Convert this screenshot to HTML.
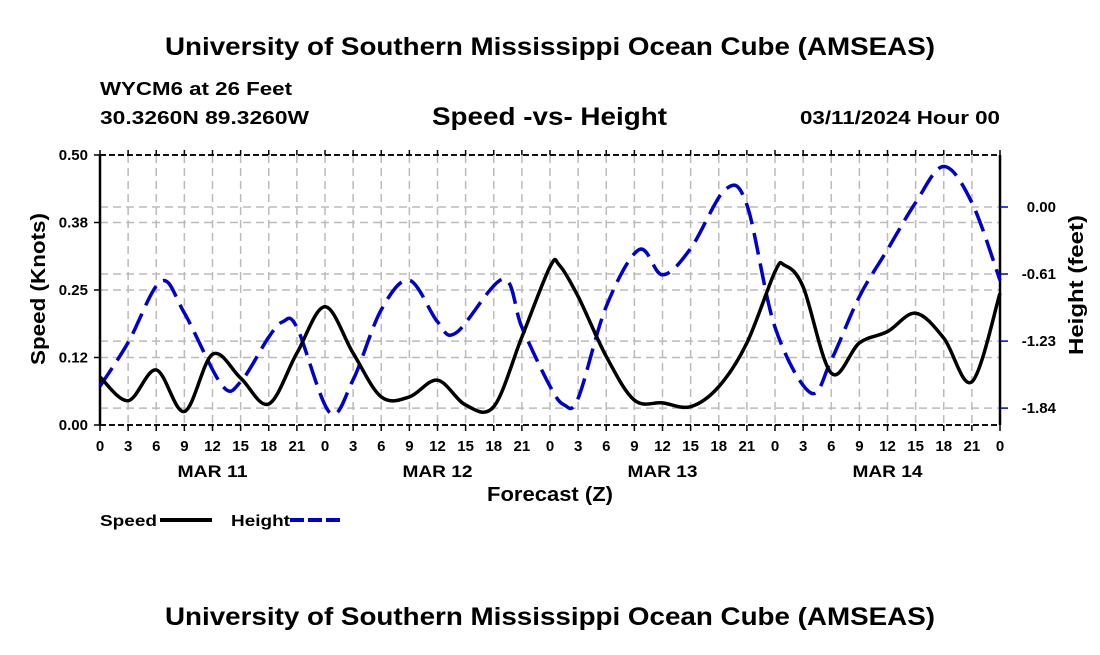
<!DOCTYPE html>
<html><head><meta charset="utf-8"><style>
body{margin:0;background:#fff;width:1100px;height:650px;overflow:hidden}
svg text{font-family:"Liberation Sans",sans-serif;font-weight:bold;fill:#000}
</style></head><body>
<svg id="c" width="1100" height="650">
<text x="165" y="55" font-size="25" textLength="770" lengthAdjust="spacingAndGlyphs">University of Southern Mississippi Ocean Cube (AMSEAS)</text>
<text x="100" y="95" font-size="18" textLength="192" lengthAdjust="spacingAndGlyphs">WYCM6 at 26 Feet</text>
<text x="100" y="124" font-size="18" textLength="209" lengthAdjust="spacingAndGlyphs">30.3260N  89.3260W</text>
<text x="432" y="125" font-size="25" textLength="235" lengthAdjust="spacingAndGlyphs">Speed -vs- Height</text>
<text x="800" y="124" font-size="18" textLength="200" lengthAdjust="spacingAndGlyphs">03/11/2024 Hour 00</text>
<g id="grid"></g>
<g id="axes"></g>
<g id="series"></g>
<text transform="translate(45,365) rotate(-90)" font-size="20" textLength="152" lengthAdjust="spacingAndGlyphs">Speed (Knots)</text>
<text transform="translate(1083,355) rotate(-90)" font-size="20" textLength="140" lengthAdjust="spacingAndGlyphs">Height (feet)</text>
<text x="487" y="501" font-size="20" textLength="126" lengthAdjust="spacingAndGlyphs">Forecast (Z)</text>
<g>
<text x="100" y="526" font-size="16" textLength="57" lengthAdjust="spacingAndGlyphs">Speed</text>
<line x1="160" y1="520" x2="212" y2="520" stroke="#000" stroke-width="4"/>
<text x="231" y="526" font-size="16" textLength="59" lengthAdjust="spacingAndGlyphs">Height</text>
<line x1="290" y1="520" x2="342" y2="520" stroke="#0000cc" stroke-width="4" stroke-dasharray="14,4"/>
</g>
<text x="165" y="625" font-size="25" textLength="770" lengthAdjust="spacingAndGlyphs">University of Southern Mississippi Ocean Cube (AMSEAS)</text>
</svg>
<script>
const speedHours=[0,3,6,9,12,15,18,21,24,27,30,33,36,39,42,45,48,49,51,54,57,60,63,66,69,72,73,75,78,81,84,87,90,93,96];
const speedValues=[0.089,0.045,0.102,0.025,0.131,0.087,0.039,0.133,0.219,0.133,0.052,0.052,0.083,0.037,0.034,0.163,0.293,0.296,0.238,0.127,0.046,0.041,0.034,0.071,0.152,0.284,0.296,0.256,0.096,0.152,0.173,0.207,0.161,0.080,0.244];
const heightHours=[0,3,6.5,9,13,15,18,19.5,21,24.5,27,30,33,36,38,43,45,48,49.5,51,54,57.5,60,63,66.7,69,72,75.8,78,81,84,87,90,93,96];
const heightValues=[-1.64,-1.24,-0.68,-0.97,-1.63,-1.60,-1.19,-1.05,-1.10,-1.88,-1.58,-0.94,-0.67,-1.05,-1.15,-0.66,-1.10,-1.64,-1.81,-1.75,-0.91,-0.39,-0.62,-0.38,0.16,0.02,-1.10,-1.70,-1.40,-0.82,-0.39,0.04,0.37,0.04,-0.67];
const speedTicks=[0,0.125,0.25,0.375,0.5];
const speedTickLabels=["0.00","0.12","0.25","0.38","0.50"];
const heightTicks=[0,-0.613,-1.227,-1.84];
const heightTickLabels=["0.00","-0.61","-1.23","-1.84"];
const dayLabels=["MAR 11","MAR 12","MAR 13","MAR 14"];
const X0=100,X1=1000,Y0=425,Y1=155;
const xs=h=>X0+(X1-X0)*h/96;
const ys=v=>Y0-(Y0-Y1)*v/0.5;
const yh=v=>207-v*109.3;
const NS="http://www.w3.org/2000/svg";
function mk(p,t,a){const e=document.createElementNS(NS,t);for(const k in a)e.setAttribute(k,a[k]);document.getElementById(p).appendChild(e);return e;}
for(let h=3;h<96;h+=3){const l=mk('grid','line',{x1:xs(h),x2:xs(h),y1:Y1,y2:Y0,stroke:'#bbb','stroke-width':1.5,'stroke-dasharray':'8,5'});

}
speedTicks.slice(1,4).forEach(v=>{const l=mk('grid','line',{x1:X0,x2:X1,y1:ys(v),y2:ys(v),stroke:'#bbb','stroke-width':1.5,'stroke-dasharray':'8,5'});

});
heightTicks.forEach(v=>{const l=mk('grid','line',{x1:X0,x2:X1,y1:yh(v),y2:yh(v),stroke:'#bbb','stroke-width':1.5,'stroke-dasharray':'8,5'});

});
[[X0,Y0,X0,Y1],[X1,Y0,X1,Y1]].forEach(c=>{const l=mk('axes','line',{x1:c[0],y1:c[1],x2:c[2],y2:c[3],stroke:'#000','stroke-width':2.5});

});
[Y0,Y1].forEach(y=>{const l=mk('axes','line',{x1:X0,x2:X1,y1:y,y2:y,stroke:'#111','stroke-width':2,'stroke-dasharray':'6,3'});

});
for(let h=0;h<=96;h+=3){const x=xs(h);
mk('axes','line',{x1:x,x2:x,y1:Y0,y2:Y0+6,stroke:'#000','stroke-width':1.5});
mk('axes','line',{x1:x,x2:x,y1:Y1,y2:Y1-5,stroke:'#000','stroke-width':1.5});
const t=mk('axes','text',{x:x,y:451,'font-size':15,'text-anchor':'middle'});t.textContent=String(h%24);

}
dayLabels.forEach((d,i)=>{const t=mk('axes','text',{x:xs(12+24*i),y:477,'font-size':17,'text-anchor':'middle',textLength:70,lengthAdjust:'spacingAndGlyphs'});t.textContent=d;

});
speedTicks.forEach((v,i)=>{mk('axes','line',{x1:X0-6,x2:X0,y1:ys(v),y2:ys(v),stroke:'#000','stroke-width':1.5});
const t=mk('axes','text',{x:88,y:ys(v)+5,'font-size':15,'text-anchor':'end'});t.textContent=speedTickLabels[i];

});
heightTicks.forEach((v,i)=>{mk('axes','line',{x1:X1,x2:X1+8,y1:yh(v),y2:yh(v),stroke:'#0000cc','stroke-width':1.5});
const t=mk('axes','text',{x:1056,y:yh(v)+5,'font-size':15,'text-anchor':'end'});t.textContent=heightTickLabels[i];

});
function smooth(p){let d=`M${p[0][0]},${p[0][1]}`;for(let i=0;i<p.length-1;i++){const a=p[Math.max(0,i-1)],b=p[i],c=p[i+1],e=p[Math.min(p.length-1,i+2)];
d+=` C${b[0]+(c[0]-a[0])/6},${b[1]+(c[1]-a[1])/6} ${c[0]-(e[0]-b[0])/6},${c[1]-(e[1]-b[1])/6} ${c[0]},${c[1]}`;}return d;}
const hp=mk('series','path',{d:smooth(heightHours.map((h,i)=>[xs(h),yh(heightValues[i])])),fill:'none',stroke:'#0000cc','stroke-width':3.5,'stroke-dasharray':'22,9'});


const sp=mk('series','path',{d:smooth(speedHours.map((h,i)=>[xs(h),ys(speedValues[i])])),fill:'none',stroke:'#000','stroke-width':3.5});


</script>
</body></html>
